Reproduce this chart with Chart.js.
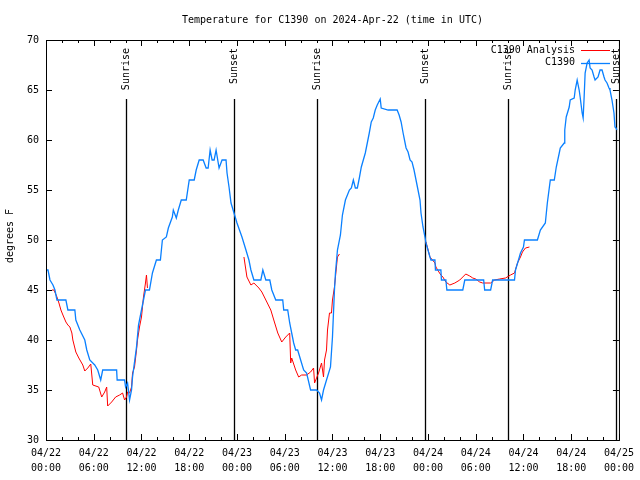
<!DOCTYPE html>
<html>
<head>
<meta charset="utf-8">
<script src="https://cdn.jsdelivr.net/npm/chart.js@4"></script>
<style>
  html, body { margin: 0; padding: 0; background: #fff; }
  #wrap { width: 640px; height: 480px; }
</style>
</head>
<body>
<div id="wrap"><canvas id="tempChart" width="640" height="480"></canvas></div>
<script>
// hours since 2024-04-22 00:00 UTC
const obsHours = [0, 0.25, 0.5, 0.875, 1.125, 1.375, 2.5, 2.75, 3.625, 3.75, 4.25, 4.875, 5.125, 5.5, 6.125, 6.5,
  6.875, 7.125, 8.875, 8.94, 9.875, 10, 10.25, 10.5, 10.75, 10.875, 11.375, 11.625, 12, 12.5, 13, 13.375,
  13.875, 14.375, 14.625, 15.125, 15.375, 15.875, 16, 16.375, 16.625, 17, 17.625, 18, 18.625, 18.875,
  19.25, 19.75, 20.125, 20.375, 20.625, 20.875, 21.125, 21.375, 21.75, 22.125, 22.625, 22.75, 23, 23.25,
  23.625, 24, 24.625, 25.125, 25.5, 25.75, 26.125, 27, 27.25, 27.625, 28.125, 28.375, 28.875, 29.75,
  29.875, 30.375, 30.625, 30.875, 31.125, 31.375, 31.625, 32, 32.375, 32.75, 33.25, 34, 34.375, 34.625,
  34.875, 35.25, 35.75, 36, 36.25, 36.375, 36.625, 37, 37.25, 37.625, 38.125, 38.375, 38.625, 38.875,
  39.125, 39.375, 39.625, 40.125, 40.25, 40.625, 40.875, 41.125, 41.375, 41.625, 42, 42.125, 43, 44.125,
  44.375, 44.625, 44.875, 45.125, 45.25, 45.5, 45.75, 46, 46.25, 46.5, 46.75, 47, 47.125, 47.375, 47.625,
  47.75, 48.25, 48.375, 48.875, 48.94, 49.625, 49.69, 50.25, 50.375, 52.375, 52.625, 55, 55.125, 55.875,
  56.125, 58.875, 59, 59.375, 59.625, 60, 60.125, 61.75, 62.125, 62.75, 63, 63.375, 63.875, 64.125, 64.5,
  64.625, 65.125, 65.19, 65.375, 65.75, 65.875, 66.375, 66.5, 66.75, 67, 67.125, 67.375, 67.5, 67.625,
  67.75, 68, 68.25, 68.375, 68.625, 68.875, 69, 69.375, 69.625, 69.875, 70.125, 70.25, 70.5, 70.75,
  70.875, 71.125, 71.375, 71.5, 71.625, 71.75];
const obsTemps = [47, 47, 46, 45.5, 45, 44, 44, 43, 43, 42, 41, 40, 39, 38, 37.5, 37,
  36, 37, 37, 36, 36, 35.3, 35.7, 34, 35, 36.3, 39.3, 41.5, 43, 45, 45, 46.7,
  48, 48, 50, 50.3, 51.2, 52.3, 53, 52.2, 53, 54, 54, 56, 56, 57,
  58, 58, 57.2, 57.2, 59, 58, 58, 59, 57.2, 58, 58, 56.7, 55.3, 53.7,
  52.7, 51.7, 50.3, 49, 48, 47, 46, 46, 47, 46, 46, 45, 44, 44,
  43, 43, 41.7, 40.7, 39.7, 39, 39, 38, 37, 36.7, 35, 35, 34.7, 34,
  35, 36, 37.3, 40.3, 45, 46.7, 49, 50.5, 52.5, 54, 55, 55.2, 56, 55.2,
  55.2, 56.2, 57.3, 58.7, 59.2, 60.7, 61.8, 62.2, 63, 63.5, 64.1, 63.2, 63, 63,
  62.5, 61.8, 60.7, 59.7, 59.2, 58.8, 58, 57.8, 57, 56, 55, 54, 52.7, 51.3, 50.3,
  49.7, 48.3, 48, 48, 47, 47, 46, 46, 45, 45, 46, 46, 45, 45,
  46, 46, 47, 48, 48.7, 49.3, 50, 50, 51, 51.7, 53.7, 56, 56, 57.3, 58.7,
  59.2, 59.7, 61, 62.3, 63.3, 64, 64.2, 65, 66, 65, 64.3, 62.7, 62.2, 64.3,
  66.7, 67.7, 68, 67.2, 67, 66.3, 66, 66.3, 67, 67, 66.3, 66, 65.7, 65.2,
  65, 64, 62.7, 61.3, 61.2, 61];

// analysis series, null = gap
const anaHours = [0.75, 1, 1.375, 1.625, 1.875, 2.125, 2.5, 2.75, 3, 3.25, 3.375, 3.75, 4.125, 4.625, 4.875,
  5.25, 5.625, 5.875, 6.625, 7, 7.375, 7.625, 7.75, 8.25, 8.75, 9.25, 9.625, 9.875, 10.125, 10.25, 10.5,
  10.75, 10.875, 11.125, 11.375, 11.5, 11.75, 12, 12.25, 12.5, 12.625, 12.75,
  18,
  24.875, 25.25, 25.75, 26.125, 26.75, 27.125, 27.625, 28.25, 28.625, 29.125, 29.625, 30.125, 30.625,
  30.75, 30.875, 31.375, 31.75, 32.125, 32.75, 33.25, 33.625, 33.75, 34, 34.25, 34.625, 34.875, 35,
  35.25, 35.375, 35.625, 35.875, 36, 36.25, 36.375, 36.625, 36.875,
  42,
  47.75, 48.25, 48.875, 49, 49.375, 49.625, 49.875, 50.25, 50.75, 51.375, 52, 52.375, 52.75, 53.25,
  53.625, 54, 54.5, 54.875, 55.875, 56.375, 57, 57.75, 58.375, 58.875, 59.25, 59.625, 59.875, 60.25, 60.75];
const anaTemps = [45, 45, 44.3, 43.7, 43, 42.5, 41.8, 41.5, 41.3, 40.7, 40, 38.8, 38.2, 37.5, 36.9,
  37.2, 37.6, 35.5, 35.3, 34.3, 34.8, 35.3, 33.4, 33.8, 34.3, 34.5, 34.7, 34, 34.3, 34.8, 34.7,
  35.3, 36.7, 37.3, 39, 40, 41.3, 42.3, 44.3, 45.7, 46.5, 45.2,
  null,
  48.3, 46.3, 45.5, 45.7, 45.2, 44.8, 44, 43, 42, 40.7, 39.8, 40.3, 40.7,
  37.7, 38.2, 37, 36.3, 36.5, 36.5, 36.8, 37.2, 35.7, 36.2, 36.7, 37.7, 36.3, 38,
  39, 41, 42.7, 42.7, 44, 45.3, 46.3, 48.3, 48.6,
  null,
  49.8, 48.3, 47.7, 47.3, 46.8, 46.5, 46.3, 45.8, 45.5, 45.7, 46, 46.3, 46.6, 46.4,
  46.2, 46.1, 45.8, 45.7, 45.7, 46, 46.1, 46.2, 46.5, 46.7, 47.7, 48.3, 48.8, 49.2, 49.3];

const sunHours = [10.0, 23.6, 34.1, 47.6, 58.0, 71.6];
const sunLabels = ["Sunrise", "Sunset", "Sunrise", "Sunset", "Sunrise", "Sunset"];

const tickDates = ["04/22", "04/22", "04/22", "04/22", "04/23", "04/23", "04/23", "04/23",
  "04/24", "04/24", "04/24", "04/24", "04/25"];
const tickTimes = ["00:00", "06:00", "12:00", "18:00", "00:00", "06:00", "12:00", "18:00",
  "00:00", "06:00", "12:00", "18:00", "00:00"];

const FONT = "DejaVu Sans Mono";

function toPoints(xs, ys) {
  return xs.map((h, i) => ({ x: h, y: ys[i] }));
}

const decor = {
  id: "decor",
  beforeDatasetsDraw(chart) {
    const ctx = chart.ctx;
    const area = chart.chartArea;
    const xs = chart.scales.x;
    ctx.save();
    ctx.strokeStyle = "#000";
    ctx.fillStyle = "#000";
    ctx.lineWidth = 1.3;
    ctx.font = "10px '" + FONT + "'";
    sunHours.forEach((h, i) => {
      const px = Math.round(xs.getPixelForValue(h)) + 0.5;
      ctx.beginPath();
      ctx.moveTo(px, area.top + 59);
      ctx.lineTo(px, area.bottom);
      ctx.stroke();
      ctx.save();
      ctx.translate(px, area.top + 8);
      ctx.rotate(-Math.PI / 2);
      ctx.textAlign = "right";
      ctx.textBaseline = "middle";
      ctx.fillText(sunLabels[i], 0, 0);
      ctx.restore();
    });
    ctx.restore();
  },
  afterDraw(chart) {
    const ctx = chart.ctx;
    const a = chart.chartArea;
    const xs = chart.scales.x;
    const ys = chart.scales.y;
    ctx.save();
    ctx.strokeStyle = "#000";
    ctx.lineWidth = 1;
    // frame
    ctx.strokeRect(a.left + 0.5, a.top + 0.5, a.right - a.left, a.bottom - a.top);
    // inward ticks, mirrored
    ctx.beginPath();
    for (let h = 0; h <= 72; h += 2) {
      const px = Math.round(xs.getPixelForValue(h)) + 0.5;
      const len = h % 6 === 0 ? 6 : 3;
      ctx.moveTo(px, a.bottom);
      ctx.lineTo(px, a.bottom - len);
      ctx.moveTo(px, a.top);
      ctx.lineTo(px, a.top + len);
    }
    for (let t = 30; t <= 70; t += 5) {
      const py = Math.round(ys.getPixelForValue(t)) + 0.5;
      ctx.moveTo(a.left, py);
      ctx.lineTo(a.left + 6, py);
      ctx.moveTo(a.right, py);
      ctx.lineTo(a.right - 6, py);
    }
    ctx.stroke();

    ctx.fillStyle = "#000";
    ctx.font = "10px '" + FONT + "'";
    // title
    ctx.textAlign = "center";
    ctx.textBaseline = "middle";
    ctx.fillText("Temperature for C1390 on 2024-Apr-22 (time in UTC)", (a.left + a.right) / 2, 20);
    // y title
    ctx.save();
    ctx.translate(10, 236);
    ctx.rotate(-Math.PI / 2);
    ctx.fillText("degrees F", 0, 0);
    ctx.restore();
    // key
    const ds = chart.data.datasets;
    ctx.textAlign = "right";
    [0, 1].forEach(i => {
      const y = 50 + i * 12.5;
      ctx.fillStyle = "#000";
      ctx.fillText(ds[i].label, 575, y);
      ctx.strokeStyle = ds[i].borderColor;
      ctx.lineWidth = ds[i].borderWidth;
      ctx.beginPath();
      ctx.moveTo(581, Math.round(y) + 0.5);
      ctx.lineTo(610, Math.round(y) + 0.5);
      ctx.stroke();
    });
    ctx.restore();
  }
};

const ctx = document.getElementById("tempChart").getContext("2d");
new Chart(ctx, {
  type: "line",
  data: {
    datasets: [{
      label: "C1390 Analysis",
      data: toPoints(anaHours, anaTemps),
      borderColor: "#ff0000",
      borderWidth: 1,
      pointRadius: 0,
      spanGaps: false,
      tension: 0,
      order: 1
    }, {
      label: "C1390",
      data: toPoints(obsHours, obsTemps),
      borderColor: "#0a80ff",
      borderWidth: 1.3,
      pointRadius: 0,
      tension: 0,
      order: 0
    }]
  },
  options: {
    responsive: false,
    animation: false,
    layout: { padding: { top: 40, right: 18, left: 0, bottom: 0 } },
    plugins: {
      legend: { display: false },
      tooltip: { enabled: false },
      title: { display: false }
    },
    scales: {
      x: {
        type: "linear",
        min: 0,
        max: 72,
        grid: { display: false, drawTicks: false },
        border: { display: false },
        ticks: {
          stepSize: 6,
          autoSkip: false,
          maxRotation: 0,
          padding: 6,
          color: "#000",
          font: { family: FONT, size: 10, lineHeight: 1.5 },
          callback: v => [tickDates[v / 6], tickTimes[v / 6]]
        },
        afterFit: s => { s.height = 40; }
      },
      y: {
        min: 30,
        max: 70,
        grid: { display: false, drawTicks: false },
        border: { display: false },
        ticks: {
          stepSize: 5,
          padding: 7,
          color: "#000",
          font: { family: FONT, size: 10 }
        },
        afterFit: s => { s.width = 46; }
      }
    }
  },
  plugins: [decor]
});
</script>
</body>
</html>
